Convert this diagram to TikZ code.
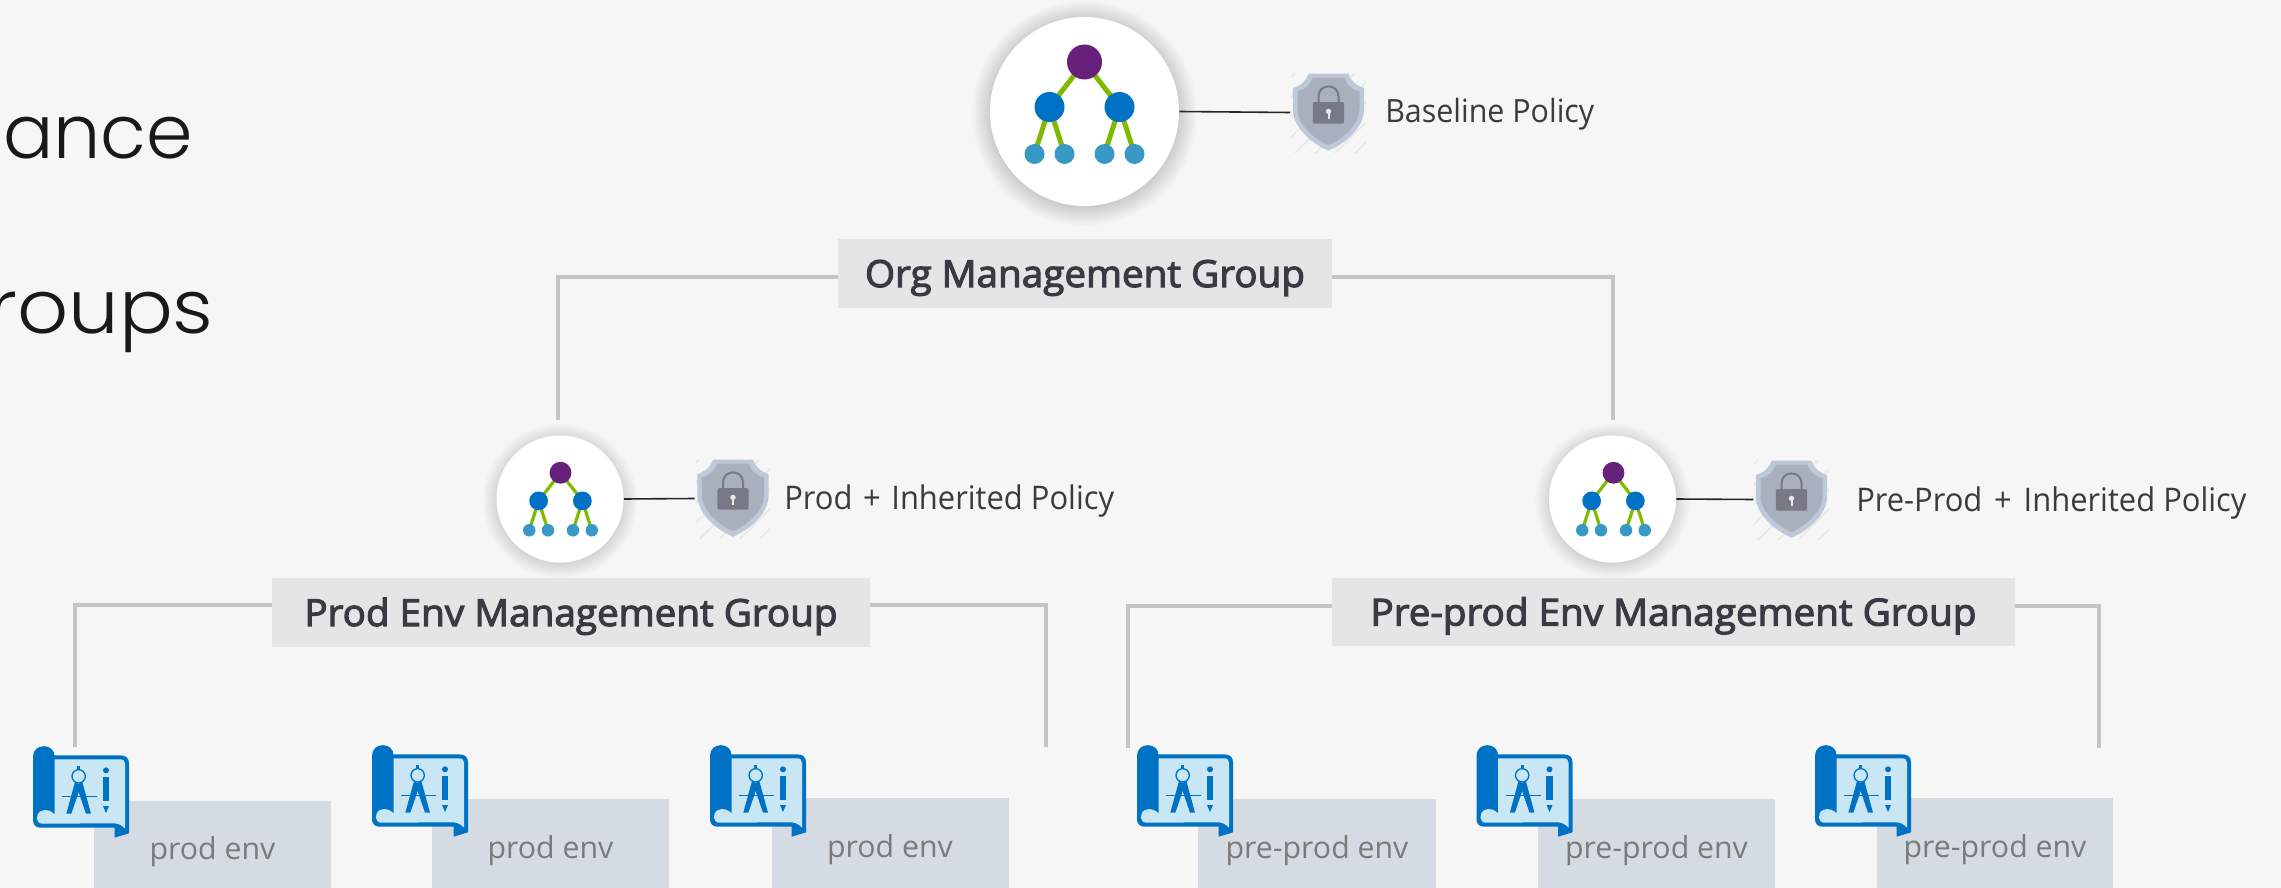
\documentclass[tikz,border=0pt]{standalone}
\usepackage{fontspec}
\setmainfont[FakeStretch=0.95]{Open Sans}
\newfontfamily\semifont[FakeStretch=1.035,FakeBold=3]{Open Sans}
\newfontfamily\envfont{Open Sans}
\newfontfamily\titlefont{Poppins Light}
\newfontfamily\titlewide[FakeStretch=1.07]{Poppins Light}
\usetikzlibrary{calc}
\definecolor{bgc}{HTML}{F6F6F6}
\definecolor{boxc}{HTML}{E5E5E5}
\definecolor{connc}{HTML}{C4C4C4}
\definecolor{envc}{HTML}{D5DBE3}
\definecolor{envt}{HTML}{7A7A7A}
\definecolor{labelc}{HTML}{3B3B3F}
\definecolor{boldc}{HTML}{3A3A42}
\definecolor{msblue}{HTML}{0072C6}
\definecolor{lightb}{HTML}{C9E6F5}
\definecolor{leafb}{HTML}{3999C6}
\definecolor{purp}{HTML}{68217A}
\definecolor{grn}{HTML}{7FBA00}
\definecolor{shout}{HTML}{BFC8D9}
\definecolor{shin}{HTML}{A9AFBD}
\definecolor{lockc}{HTML}{777A86}
\definecolor{hatchc}{HTML}{E8E8E8}
\newdimen\px \px=0.75pt
\newcommand\halo[3]{\begin{scope}[shift={(#1)}]\foreach \k in {1,...,#3}{\fill[black,opacity=.012] (0,2) circle ({#2+\k*1.4});}\end{scope}}
\tikzset{
 treelw/.store in=\treelw, treelw=3.75pt,
 disk/.style={circle,fill=white,inner sep=0pt},
 conn/.style={draw=connc,line width=4\px},
 tie/.style={draw=black!85,line width=1.6\px},
 mgbox/.style={fill=boxc,inner sep=0pt,text=boldc,text height=27\px,text depth=0pt,font=\semifont\fontsize{28}{32}\selectfont},
 envbox/.style={fill=envc,inner sep=0pt,text=envt,text height=29\px,text depth=0pt,font=\envfont\fontsize{22.7}{26}\selectfont},
 policy/.style={inner sep=0pt,anchor=base west,text=labelc,font=\fontsize{24}{28}\selectfont},
 policywide/.style={policy,font=\fontsize{24.4}{28}\selectfont},
 titletxt/.style={inner sep=0pt,anchor=base west,text=black!90,font=\titlefont\fontsize{56}{60}\selectfont},
 titlewidetxt/.style={inner sep=0pt,anchor=base west,text=black!90,font=\titlewide\fontsize{56}{60}\selectfont},
 shieldslot/.style={inner sep=0pt,minimum width=76\px,minimum height=77\px},
 tree/.pic={
  \draw[grn,line width=\treelw] (-35,3)--(0,-42)--(35,3);
  \draw[grn,line width=\treelw] (-50,50)--(-35,3)--(-20,50) (20,50)--(35,3)--(50,50);
  \fill[purp] (0,-42) circle (17.5);
  \fill[msblue] (-35,3) circle (15) (35,3) circle (15);
  \fill[leafb] (-50,50) circle (10) (-20,50) circle (10) (20,50) circle (10) (50,50) circle (10);
 },
 shield/.pic={
  \begin{scope}[x=.25pt,y=-.25pt]
   \begin{scope}
    \clip (-112,-3) rectangle (112,235);
    \foreach \d in {-282,-222,...,340}{\draw[hatchc,line width=1.2pt] (\d-120,240)--(\d+120,0);}
   \end{scope}
   \fill[shout] (-60,0)--(60,0) .. controls (70,28) and (90,38) .. (107,43) -- (107,105) .. controls (107,165) and (45,212) .. (0,231) .. controls (-45,212) and (-107,165) .. (-107,105) -- (-107,43) .. controls (-90,38) and (-70,28) .. (-60,0) -- cycle;
   \fill[shin] (-47,12)--(47,12) .. controls (55,35) and (75,50) .. (93,53) -- (93,105) .. controls (93,155) and (40,197) .. (0,214) .. controls (-40,197) and (-93,155) .. (-93,105) -- (-93,53) .. controls (-75,50) and (-55,35) .. (-47,12) -- cycle;
   \draw[lockc,line width=1.5pt] (-30,88) -- (-30,68) .. controls (-30,28) and (30,28) .. (30,68) -- (30,88);
   \fill[lockc,rounded corners=1.5pt] (-47,85) rectangle (47,150);
   \fill[hatchc] (0,113) circle (8);
   \fill[hatchc] (-3,113) rectangle (3,135);
  \end{scope}
 },
 blueprint/.pic={
  \begin{scope}[x=.25pt,y=-.25pt]
   \fill[msblue] (0,32) .. controls (0,-10) and (65,-10) .. (65,32) -- (65,28) -- (262,28) .. controls (280,28) and (288,38) .. (288,52) -- (288,262) -- (245,275) -- (245,245) -- (22,245) .. controls (8,245) and (0,236) .. (0,222) -- cycle;
   \fill[lightb] (65,40) -- (262,40) .. controls (272,40) and (276,46) .. (276,54) -- (276,248) .. controls (265,235) and (252,232) .. (242,232) -- (28,233) .. controls (8,233) and (6,205) .. (24,195) .. controls (40,188) and (55,195) .. (65,205) -- cycle;
   \draw[msblue,line width=1pt] (137,91) circle (20);
   \fill[msblue] (132,60) rectangle (142,72);
   \fill[msblue] (126,108)--(100,203)--(115,203)--(144,118)--cycle;
   \fill[msblue] (148,108)--(174,203)--(159,203)--(130,118)--cycle;
   \draw[msblue,line width=.9pt] (87,151)--(192,151);
   \fill[msblue] (219,73) circle (9);
   \fill[msblue] (209,93) rectangle (229,166);
   \fill[msblue] (210,180)--(228,180)--(219,201)--cycle;
  \end{scope}
 },
}
\begin{document}
\begin{tikzpicture}[x=0.75pt,y=-0.75pt]
\fill[bgc] (0,0) rectangle (2281,888);
\useasboundingbox (0,0) rectangle (2281,888);
% title fragments
\node[titletxt] (t1) at (3,159) {ance};
\node[titlewidetxt] (t2) at (-12,333) {roups};
% org level
\halo{1084.5,111.5}{93}{14}
\halo{560,499}{62}{11}
\halo{1612.5,499}{62}{11}
\node[disk,minimum size=189\px] (orgc) at (1084.5,111.5) {};
\pic at (1084.5,104) {tree};
\node[shieldslot] (orgs) at (1328.5,112.5) {};
\pic at (orgs.north) {shield};
\draw[tie] (orgc.east) -- (orgs.west);
\node[policy] (orgp) at (1385,122.5) {Baseline Policy};
\node[mgbox,minimum width=494\px,minimum height=69\px] (org) at (1085,273.5) {Org Management Group};
% env level
\node[disk,minimum size=127\px] (prodc) at (560,499) {};
\pic[scale=.625,treelw=2.4pt] at (560.5,499) {tree};
\node[shieldslot] (prods) at (733,498.5) {};
\pic at (prods.north) {shield};
\draw[tie] (prodc.east) -- (prods.west);
\node[policywide] (prodp) at (784,509.5) {Prod\hspace{2.6\px} + \hspace{2.6\px}Inherited Policy};
\node[disk,minimum size=127\px] (prec) at (1612.5,499) {};
\pic[scale=.625,treelw=2.4pt] at (1613.5,499) {tree};
\node[shieldslot] (pres) at (1791.5,499.5) {};
\pic at (pres.north) {shield};
\draw[tie] (prec.east) -- (pres.west);
\node[policywide] (prep) at (1856,511.5) {Pre-Prod\hspace{3.8\px} + \hspace{3.8\px}Inherited Policy};
\node[mgbox,minimum width=598\px,minimum height=69\px] (prodmg) at (571,612.5) {Prod Env Management Group};
\node[mgbox,minimum width=683\px,minimum height=68\px] (premg) at (1673.5,612) {Pre-prod Env Management Group};
% connector ends
\coordinate (orgL) at (558,420);
\coordinate (orgR) at (1613,420);
\coordinate (prodL) at (74.5,747);
\coordinate (prodR) at (1046,747);
\coordinate (preL) at (1128,748);
\coordinate (preR) at (2099,748);
\draw[conn] ([yshift=-3.5\px]org.west) -| (orgL);
\draw[conn] ([yshift=-3.5\px]org.east) -| (orgR);
\draw[conn] ([yshift=8\px]prodmg.west) -| (prodL);
\draw[conn] ([yshift=8\px]prodmg.east) -| (prodR);
\draw[conn] ([yshift=6.5\px]premg.west) -| (preL);
\draw[conn] ([yshift=6.5\px]premg.east) -| (preR);
% environments
\node[envbox,minimum width=237\px,minimum height=87\px] (e1) at (212.5,844.5) {prod env};
\node[envbox,minimum width=237\px,minimum height=89\px] (e2) at (550.5,843.5) {prod env};
\node[envbox,minimum width=237\px,minimum height=90\px] (e3) at (890,843) {prod env};
\node[envbox,minimum width=238\px,minimum height=89\px] (e4) at (1317,843.5) {pre-prod env};
\node[envbox,minimum width=237\px,minimum height=89\px] (e5) at (1656.5,843.5) {pre-prod env};
\node[envbox,minimum width=236\px,minimum height=90\px] (e6) at (1995,843) {pre-prod env};
\pic at (33,746) {blueprint};
\pic at (372,745) {blueprint};
\pic at (710,745) {blueprint};
\pic at (1137,745) {blueprint};
\pic at (1476.5,745) {blueprint};
\pic at (1815,745) {blueprint};
\end{tikzpicture}
\end{document}
